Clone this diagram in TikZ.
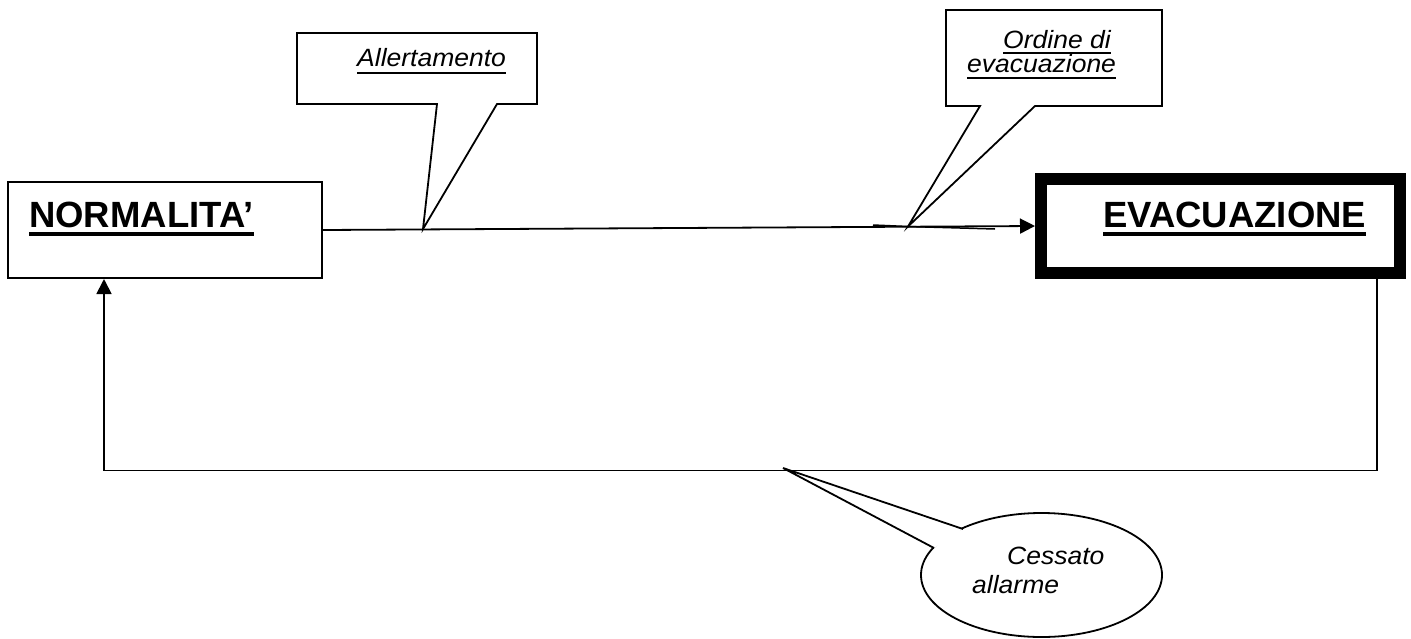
\documentclass[tikz,border=0pt]{standalone}
\usepackage{fontspec}
\setmainfont{Liberation Sans}
\newfontfamily\notefont[FakeStretch=1.06]{Liberation Sans}
\usetikzlibrary{arrows.meta,positioning}
\tikzset{>=latex}
\newcommand{\ulin}[3]{\setbox0\hbox{#1}\rlap{\copy0}\rule[-#2]{\wd0}{#3}}

\begin{document}
\begin{tikzpicture}[x=1pt,y=-1pt,
    state/.style={draw,line width=2pt,inner sep=0pt},
    flow/.style={line width=1.8pt,-{Triangle[length=15pt,width=15pt]}},
    callout/.style={draw,fill=white,line width=1.8pt},
    title/.style={font=\fontsize{36.5}{40}\selectfont\bfseries,inner sep=0pt,anchor=base west},
    note/.style={font=\notefont\fontsize{25}{22}\selectfont\itshape,inner sep=0pt,anchor=base west}]
    \useasboundingbox (0,0) rectangle (1411,638);
    % states
    \node[state,minimum width=314pt,minimum height=96pt] (norm) at (165,230) {};
    \node[state,line width=12pt,minimum width=359pt,minimum height=94pt] (evac) at (1220.5,226) {};
    \node[title] (normtxt) at (29,227) {\ulin{NORMALITA’}{8.5pt}{3.5pt}};
    \node[title] (evactxt) at (1103,227) {\ulin{EVACUAZIONE}{8.5pt}{3.5pt}};
    % transitions
    \draw[flow] (norm.east) -- (evac.west);
    \coordinate (loopR) at (1377,470.5);
    \coordinate (loopL) at (104,470.5);
    \draw[flow] (evac.south -| loopR) -- (loopR) -- (loopL) -- (norm.south -| loopL);
    % callouts
    \draw[callout] (297,33) -- (537,33) -- (537,104) -- (497,104) -- (423,229) -- (437,104) -- (297,104) -- cycle;
    \node[note] (allert) at (357,66.5) {\ulin{Allertamento}{7pt}{2pt}};
    \draw[callout] (946,10) -- (1162,10) -- (1162,106) -- (1035,106) -- (908,226.5) -- (980,106) -- (946,106) -- cycle;
    \draw[line width=1.5pt] (873,225) -- (908,226.5) -- (995,229);
    \node[note] (ordine1) at (1003,48.5) {\ulin{Ordine di}{5pt}{1.8pt}};
    \node[note] (ordine2) at (967,72) {\ulin{evacuazione}{6.5pt}{2pt}};
    \draw[callout] (1041.5,575) ellipse [x radius=120.5pt, y radius=62pt];
    \fill[white] (963,529) -- (783,468) -- (934,548) -- cycle;
    \draw[line width=1.8pt] (963,529) -- (783,468) -- (934,548);
    \node[note] (cess1) at (1007,564) {Cessato};
    \node[note] (cess2) at (972,593) {allarme};
\end{tikzpicture}
\end{document}
